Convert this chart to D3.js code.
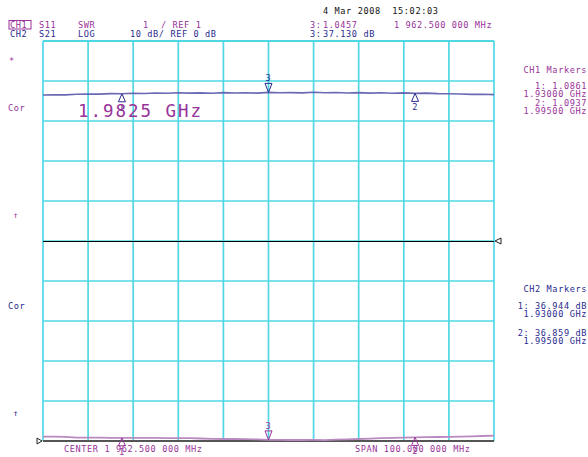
<!DOCTYPE html>
<html>
<head>
<meta charset="utf-8">
<title>S11 / S21 sweep</title>
<script src="https://cdn.jsdelivr.net/npm/d3@7/dist/d3.min.js"></script>
<style>
  * { margin: 0; padding: 0; }
  body { background: #fff; }
  text { font-family: "DejaVu Sans Mono", "Liberation Mono", monospace; font-size: 8.6px; letter-spacing: 0.6px; }
</style>
</head>
<body>
<div id="chart"></div>
<script>
// sweep: center 1962.5 MHz, span 100 MHz, 41 points
var startGHz = 1.9125, stopGHz = 2.0125;
var freqs = d3.range(41).map(function(i){ return startGHz + i * 0.0025; });

// CH1 S11 SWR
var swr = [1.025,1.030,1.028,1.045,1.050,1.048,1.060,1.055,1.070,1.062,1.075,1.068,1.080,1.072,1.078,1.070,
           1.085,1.075,1.080,1.072,1.090,1.080,1.085,1.078,1.092,1.082,1.088,1.075,1.085,1.072,1.080,1.070,
           1.078,1.065,1.072,1.060,1.055,1.050,1.040,1.045,1.035];
// CH2 S21 log mag, dB
var s21 = [37.08,37.08,37.05,36.85,36.83,36.82,36.80,36.78,36.76,36.76,36.78,36.74,36.72,36.70,36.62,36.52,
           36.50,36.55,36.48,36.40,36.28,36.26,36.25,36.25,36.26,36.24,36.35,36.42,36.50,36.58,36.70,36.78,
           36.85,36.90,36.95,37.00,37.05,37.10,37.15,37.25,37.33];

var ch1Markers = [{n:"1", f:1.930, v:"1.0861"}, {n:"2", f:1.995, v:"1.0937"}];
var ch2Markers = [{n:"1", f:1.930, v:"36.944 dB"}, {n:"2", f:1.995, v:"36.859 dB"}];
var activeMarker = {n:"3", f:1.9625};

var purple = "#993399", navy = "#2a2a8e", grid = "#4fd8e4";
var tr1 = "#6a6ab4", tr2 = "#b88ac0";

var W = 588, H = 457;
var svg = d3.select("#chart").append("svg").attr("width", W).attr("height", H);

var x = d3.scaleLinear().domain([startGHz, stopGHz]).range([43, 494]);
var xDiv = d3.scaleLinear().domain([0, 10]).range([43, 494]);
var yDiv = d3.scaleLinear().domain([0, 10]).range([441, 41]);
var y1 = d3.scaleLinear().domain([1, 2]).range([96, 56]);      // 1 / div
var y2 = d3.scaleLinear().domain([36, 46]).range([441, 401]);   // 10 dB / div

// graticule
var g = svg.append("g");
g.selectAll(".vl").data(d3.range(11)).enter().append("line")
  .attr("x1", function(d){ return xDiv(d); }).attr("x2", function(d){ return xDiv(d); })
  .attr("y1", yDiv(0)).attr("y2", yDiv(10))
  .attr("stroke", grid).attr("stroke-width", 1.7);
g.selectAll(".hl").data(d3.range(1, 11)).enter().append("line")
  .attr("x1", xDiv(0)).attr("x2", xDiv(10))
  .attr("y1", function(d){ return yDiv(d); }).attr("y2", function(d){ return yDiv(d); })
  .attr("stroke", grid).attr("stroke-width", function(d){ return d == 10 ? 2.2 : 1.7; });
// bottom reference line (CH2) and center reference line (CH1)
g.append("line").attr("x1", xDiv(0)).attr("x2", xDiv(10)).attr("y1", yDiv(0)).attr("y2", yDiv(0))
  .attr("stroke", "#555").attr("stroke-width", 1.8);
g.append("line").attr("x1", xDiv(0)).attr("x2", xDiv(10)).attr("y1", yDiv(5) + 0.5).attr("y2", yDiv(5) + 0.5)
  .attr("stroke", "#000").attr("stroke-width", 1).attr("shape-rendering", "crispEdges");
g.append("path").attr("d", "M" + (xDiv(10)+7) + "," + (yDiv(5)-3) + "L" + (xDiv(10)+1) + "," + yDiv(5) + "L" + (xDiv(10)+7) + "," + (yDiv(5)+3) + "Z")
  .attr("fill", "#fff").attr("stroke", "#222").attr("stroke-width", 1);
g.append("path").attr("d", "M" + (xDiv(0)-6) + "," + (yDiv(0)-3) + "L" + (xDiv(0)-1) + "," + yDiv(0) + "L" + (xDiv(0)-6) + "," + (yDiv(0)+3) + "Z")
  .attr("fill", "#fff").attr("stroke", "#222").attr("stroke-width", 1);

// traces
var line1 = d3.line().x(function(d, i){ return x(freqs[i]); }).y(function(d){ return y1(d); });
var line2 = d3.line().x(function(d, i){ return x(freqs[i]); }).y(function(d){ return y2(d); });
svg.append("path").datum(swr).attr("d", line1).attr("fill", "none").attr("stroke", tr1).attr("stroke-width", 1.6);
svg.append("path").datum(s21).attr("d", line2).attr("fill", "none").attr("stroke", tr2).attr("stroke-width", 1.8);

// markers
function interp(arr, f){
  var t = (f - startGHz) / 0.0025, i = Math.floor(t), r = t - i;
  return arr[i] + (arr[Math.min(i+1, arr.length-1)] - arr[i]) * r;
}
function drawMarkers(list, arr, ys, color){
  list.forEach(function(m){
    var mx = x(m.f), my = ys(interp(arr, m.f));
    svg.append("path").attr("d", "M" + mx + "," + my + "L" + (mx-3.5) + "," + (my+8) + "L" + (mx+3.5) + "," + (my+8) + "Z")
      .attr("fill", "none").attr("stroke", color).attr("stroke-width", 1);
    svg.append("text").attr("x", mx).attr("y", my + 17).attr("text-anchor", "middle").attr("fill", color).text(m.n);
  });
  var ax = x(activeMarker.f), ay = ys(interp(arr, activeMarker.f));
  svg.append("path").attr("d", "M" + ax + "," + ay + "L" + (ax-3.5) + "," + (ay-9) + "L" + (ax+3.5) + "," + (ay-9) + "Z")
    .attr("fill", "none").attr("stroke", color).attr("stroke-width", 1);
  svg.append("text").attr("x", ax).attr("y", ay - 11).attr("text-anchor", "middle").attr("fill", color).text(activeMarker.n);
}
drawMarkers(ch1Markers, swr, y1, navy);

// big marker frequency readout
svg.append("text").attr("x", 78).attr("y", 117).attr("fill", purple)
  .style("font-size", "17.5px").style("letter-spacing", "0px").attr("textLength", 123).attr("lengthAdjust", "spacing")
  .text("1.9825 GHz");

// header
function txt(xp, yp, s, color, anchor){
  return svg.append("text").attr("x", xp).attr("y", yp).attr("fill", color)
    .attr("text-anchor", anchor || "start").attr("xml:space", "preserve").text(s);
}
svg.append("rect").attr("x", 9).attr("y", 20.5).attr("width", 22).attr("height", 8.5)
  .attr("fill", "none").attr("stroke", purple).attr("stroke-width", 1);
txt(10, 27.5, "CH1", purple); txt(39, 27.5, "S11", purple); txt(78, 27.5, "SWR", purple);
txt(143, 27.5, "1", purple); txt(161, 27.5, "/ REF 1", purple);
txt(10, 36.5, "CH2", navy); txt(39, 36.5, "S21", navy); txt(78, 36.5, "LOG", navy);
txt(130, 36.5, "10 dB/ REF 0 dB", navy);
txt(323, 13.5, "4 Mar 2008  15:02:03", "#111");
txt(310, 27.5, "3:", purple); txt(323, 27.5, "1.0457", purple);
txt(394, 27.5, "1 962.500 000 MHz", purple);
txt(310, 36.5, "3:", navy); txt(323, 36.5, "37.130 dB", navy);

// left annotations
txt(9, 64, "*", purple);
txt(8, 111, "Cor", purple);
txt(13, 218, "\u2191", purple);
txt(8, 309, "Cor", navy);
txt(13, 416, "\u2191", navy);

// right marker tables
txt(587, 73, "CH1 Markers", purple, "end");
ch1Markers.forEach(function(m, i){
  txt(587, 89 + i*17, m.n + ": " + m.v, purple, "end");
  txt(587, 96.5 + i*17, m.f.toFixed(5) + " GHz", purple, "end");
});
txt(587, 292, "CH2 Markers", navy, "end");
ch2Markers.forEach(function(m, i){
  txt(587, 309 + i*27, m.n + ": " + m.v, navy, "end");
  txt(587, 316.5 + i*27, m.f.toFixed(5) + " GHz", navy, "end");
});

// bottom stimulus labels (drawn under CH2 markers)
txt(64, 452, "CENTER 1 962.500 000 MHz", purple);
txt(355, 452, "SPAN 100.000 000 MHz", purple);

drawMarkers(ch2Markers, s21, y2, purple);
</script>
</body>
</html>
